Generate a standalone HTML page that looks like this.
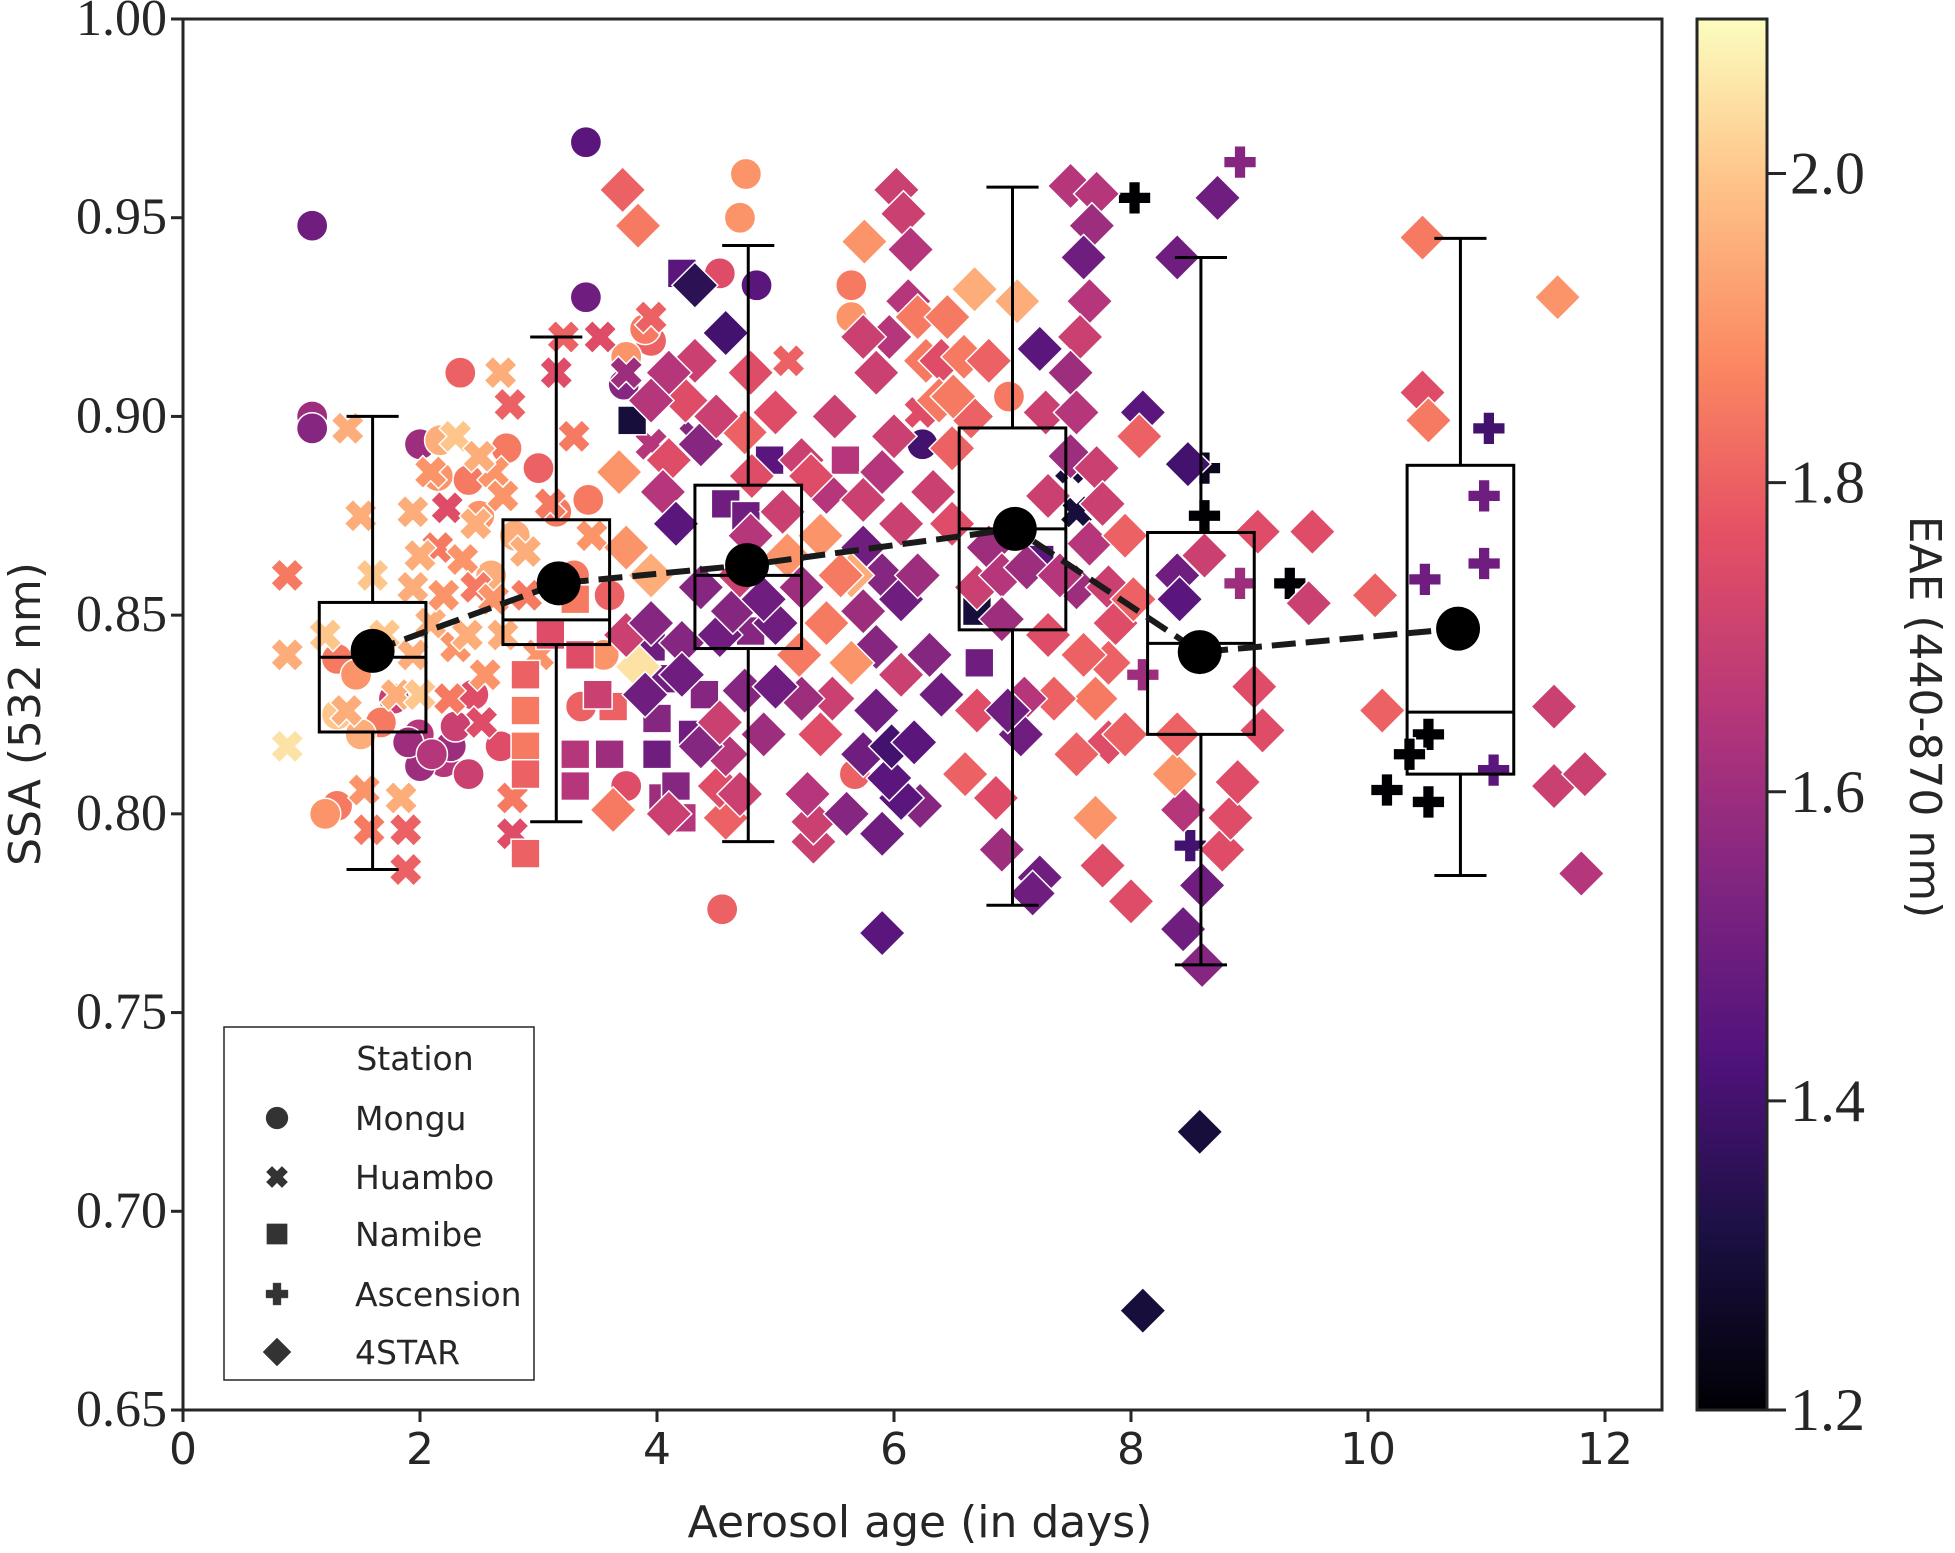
<!DOCTYPE html>
<html><head><meta charset="utf-8"><style>
html,body{margin:0;padding:0;background:#fff;}
svg{display:block;}
.serif{font-family:"Liberation Serif","DejaVu Serif",serif;}
.sans{font-family:"DejaVu Sans","Liberation Sans",sans-serif;}
</style></head><body>
<svg id="chart" width="1955" height="1553" viewBox="0 0 1955 1553" xmlns="http://www.w3.org/2000/svg">
<defs>
<linearGradient id="magma" x1="0" y1="1" x2="0" y2="0">
<stop offset="0" stop-color="#000004"/><stop offset="0.13" stop-color="#1c1044"/><stop offset="0.25" stop-color="#4f127b"/><stop offset="0.38" stop-color="#812581"/><stop offset="0.5" stop-color="#b5367a"/><stop offset="0.63" stop-color="#e55064"/><stop offset="0.75" stop-color="#fb8761"/><stop offset="0.88" stop-color="#fec287"/><stop offset="1" stop-color="#fcfdbf"/>
</linearGradient>
<clipPath id="plotclip"><rect x="183" y="19" width="1479" height="1391"/></clipPath>
</defs>
<rect x="0" y="0" width="1955" height="1553" fill="#fff"/>
<g id="scatter" clip-path="url(#plotclip)"></g>
<g id="boxes"></g>
<g id="means"></g>
<rect x="183" y="19" width="1479" height="1391" fill="none" stroke="#262626" stroke-width="3"/>
<g id="xticks"></g>
<g id="yticks"></g>
<text x="920" y="1537" text-anchor="middle" font-size="44" class="sans" fill="#262626">Aerosol age (in days)</text>
<text x="0" y="0" transform="translate(40,714) rotate(-90)" text-anchor="middle" font-size="44" class="sans" fill="#262626">SSA (532 nm)</text>
<rect x="1697" y="19" width="70" height="1391" fill="url(#magma)" stroke="#262626" stroke-width="3"/>
<g id="cbticks"></g>
<text x="0" y="0" transform="translate(1910,717) rotate(90)" text-anchor="middle" font-size="44" class="sans" fill="#262626">EAE (440-870 nm)</text>
<g>
<rect x="224" y="1027" width="310" height="353" fill="#fff" stroke="#262626" stroke-width="1.5"/>
<text x="415" y="1070" text-anchor="middle" font-size="33" class="sans" fill="#262626">Station</text>
<g id="legend-entries"></g>
</g>
</svg>
<script>
// ---------- data ----------
const xTicks = [0,2,4,6,8,10,12];
const yTicks = [0.65,0.70,0.75,0.80,0.85,0.90,0.95,1.00];
const cbTicks = [1.2,1.4,1.6,1.8,2.0];
const stations = ["Mongu","Huambo","Namibe","Ascension","4STAR"];
// [age, ssa, eae]
const mongu = [[1.09,0.948,1.5],[1.09,0.900,1.6],[1.09,0.897,1.55],[3.4,0.969,1.45],[3.4,0.930,1.5],[2.34,0.911,1.8],[2.0,0.893,1.6],[2.17,0.894,1.95],[1.3,0.839,1.85],[1.3,0.802,1.85],[4.55,0.776,1.8],[4.75,0.961,1.9],[4.7,0.950,1.9],[4.53,0.936,1.75],[4.84,0.933,1.45],[5.64,0.933,1.85],[5.64,0.925,1.9],[6.24,0.893,1.4],[6.97,0.905,1.85],[3.95,0.919,1.8],[5.67,0.810,1.8],[1.99,0.820,1.65],[2.2,0.813,1.65],[2.41,0.810,1.7],[2.68,0.817,1.75],[2.26,0.817,1.6],[1.78,0.829,1.7],[1.67,0.823,1.85],[1.3,0.825,2.0],[1.46,0.835,1.9],[2.15,0.885,1.9],[2.41,0.884,1.85],[2.73,0.892,1.85],[3.0,0.887,1.8],[3.15,0.876,1.85],[3.42,0.879,1.85],[3.36,0.827,1.8],[3.74,0.807,1.75],[3.72,0.908,1.55],[3.9,0.922,1.85],[3.74,0.915,1.9],[2.0,0.812,1.6],[2.3,0.822,1.7],[1.9,0.818,1.6],[2.1,0.815,1.65],[2.45,0.83,1.75],[2.6,0.86,1.95],[2.5,0.875,1.9],[1.2,0.8,1.9],[1.5,0.82,1.95],[3.3,0.86,1.85],[3.55,0.84,1.9],[2.8,0.87,1.95],[3.6,0.855,1.8]];
const huambo = [[0.88,0.860,1.85],[0.88,0.840,1.95],[0.88,0.817,2.05],[1.39,0.897,1.95],[1.38,0.826,1.95],[1.57,0.796,1.85],[1.88,0.796,1.8],[1.88,0.786,1.8],[1.53,0.806,1.9],[1.84,0.804,1.95],[1.94,0.857,1.95],[1.94,0.876,1.95],[2.15,0.867,1.85],[2.23,0.877,1.75],[2.36,0.864,1.9],[2.47,0.857,1.85],[2.62,0.854,1.9],[2.68,0.911,1.95],[2.76,0.903,1.8],[2.78,0.804,1.85],[2.78,0.795,1.75],[2.25,0.829,1.85],[2.52,0.823,1.75],[3.21,0.920,1.8],[3.15,0.911,1.75],[3.52,0.920,1.75],[3.95,0.925,1.8],[3.74,0.911,1.6],[3.95,0.893,1.65],[4.32,0.895,1.55],[5.11,0.914,1.8],[6.22,0.901,1.75],[7.49,0.887,1.3],[7.54,0.876,1.3],[2.09,0.886,1.9],[2.89,0.866,1.95],[3.10,0.878,1.85],[2.47,0.873,1.95],[2.09,0.848,1.95],[2.3,0.842,1.9],[1.94,0.840,1.95],[2.62,0.886,1.9],[1.7,0.845,2.0],[1.8,0.83,1.95],[2.0,0.865,1.95],[2.2,0.855,1.9],[2.4,0.845,1.95],[2.55,0.835,1.9],[2.7,0.845,1.95],[2.9,0.855,1.85],[3.0,0.84,1.9],[2.3,0.895,2.0],[2.5,0.89,1.95],[2.7,0.88,1.9],[3.3,0.895,1.85],[3.45,0.87,1.9],[1.6,0.86,2.0],[1.5,0.875,1.95],[1.2,0.845,2.0],[2.0,0.83,2.0]];
const namibe = [[3.79,0.899,1.3],[4.21,0.936,1.45],[2.89,0.817,1.85],[2.89,0.826,1.85],[2.89,0.790,1.8],[2.89,0.810,1.8],[3.31,0.815,1.65],[3.31,0.807,1.65],[3.63,0.827,1.8],[4.0,0.824,1.55],[4.0,0.815,1.5],[4.05,0.804,1.6],[4.16,0.807,1.55],[4.21,0.799,1.65],[4.79,0.846,1.55],[4.58,0.878,1.5],[4.95,0.889,1.45],[3.95,0.842,1.5],[4.05,0.834,1.5],[2.89,0.835,1.8],[3.31,0.854,1.85],[3.10,0.845,1.75],[5.59,0.889,1.65],[6.7,0.851,1.3],[6.72,0.838,1.5],[7.23,0.864,1.45],[3.5,0.83,1.7],[3.6,0.815,1.6],[4.3,0.82,1.5],[4.4,0.83,1.55],[3.35,0.84,1.75],[4.75,0.875,1.5]];
const ascension = [[8.03,0.955,1.2],[8.92,0.964,1.55],[8.62,0.887,1.25],[8.62,0.875,1.2],[8.92,0.858,1.6],[9.34,0.858,1.2],[8.5,0.792,1.4],[8.1,0.835,1.6],[11.02,0.897,1.4],[10.98,0.880,1.5],[10.98,0.863,1.5],[10.48,0.859,1.5],[10.51,0.820,1.2],[10.35,0.815,1.2],[10.16,0.806,1.2],[10.51,0.803,1.2],[11.06,0.811,1.45]];
const star4 = [[3.71,0.957,1.8],[3.84,0.948,1.85],[6.02,0.957,1.7],[6.08,0.951,1.7],[6.14,0.942,1.65],[6.12,0.929,1.65],[5.75,0.944,1.9],[6.68,0.932,1.95],[7.04,0.929,1.95],[7.49,0.958,1.65],[7.71,0.956,1.65],[7.67,0.948,1.6],[7.60,0.940,1.5],[7.65,0.929,1.65],[7.57,0.920,1.7],[7.49,0.911,1.6],[8.39,0.940,1.5],[8.73,0.955,1.5],[8.10,0.901,1.45],[8.48,0.888,1.4],[8.39,0.860,1.5],[8.41,0.854,1.45],[8.62,0.865,1.7],[9.07,0.871,1.75],[9.53,0.871,1.75],[9.50,0.853,1.7],[10.06,0.855,1.8],[10.12,0.826,1.8],[10.46,0.945,1.85],[10.46,0.906,1.75],[10.51,0.899,1.85],[11.6,0.930,1.9],[11.57,0.827,1.7],[11.57,0.807,1.7],[11.83,0.810,1.7],[11.8,0.785,1.65],[8.58,0.720,1.3],[8.10,0.675,1.3],[5.9,0.770,1.45],[8.0,0.778,1.75],[7.76,0.787,1.75],[8.44,0.771,1.5],[8.6,0.762,1.55],[8.6,0.782,1.5],[8.77,0.791,1.75],[8.84,0.799,1.75],[8.9,0.808,1.75],[8.44,0.801,1.65],[8.37,0.810,1.9],[8.39,0.820,1.8],[9.11,0.821,1.75],[9.04,0.832,1.75],[7.7,0.799,1.9],[7.81,0.818,1.75],[7.54,0.815,1.8],[7.7,0.829,1.85],[7.81,0.838,1.8],[7.35,0.829,1.8],[7.1,0.829,1.65],[7.23,0.784,1.5],[7.17,0.780,1.5],[6.91,0.791,1.6],[6.86,0.804,1.75],[6.70,0.826,1.75],[7.07,0.820,1.5],[6.96,0.826,1.5],[5.9,0.795,1.5],[6.22,0.802,1.55],[6.06,0.804,1.45],[5.96,0.809,1.45],[5.74,0.815,1.5],[5.98,0.817,1.4],[6.17,0.818,1.45],[5.85,0.826,1.5],[5.32,0.793,1.7],[5.32,0.798,1.7],[5.27,0.805,1.65],[5.38,0.820,1.75],[5.48,0.829,1.7],[5.22,0.829,1.6],[4.58,0.799,1.8],[4.53,0.807,1.75],[4.58,0.815,1.65],[4.37,0.817,1.55],[4.53,0.823,1.7],[4.74,0.831,1.55],[5.0,0.832,1.5],[4.37,0.857,1.55],[4.53,0.845,1.5],[4.21,0.843,1.55],[5.0,0.848,1.5],[5.22,0.857,1.6],[4.32,0.933,1.35],[4.58,0.921,1.4],[4.32,0.914,1.7],[4.24,0.904,1.75],[4.37,0.893,1.55],[4.1,0.889,1.75],[4.79,0.911,1.75],[4.74,0.896,1.8],[5.0,0.901,1.75],[5.22,0.889,1.7],[5.43,0.881,1.65],[5.74,0.879,1.7],[5.9,0.886,1.65],[6.06,0.873,1.7],[5.74,0.867,1.5],[5.9,0.860,1.55],[6.06,0.854,1.5],[5.74,0.851,1.6],[5.85,0.842,1.55],[6.06,0.835,1.7],[5.64,0.838,1.9],[5.43,0.848,1.85],[5.64,0.860,1.95],[5.38,0.870,1.9],[5.85,0.911,1.7],[5.96,0.920,1.65],[5.74,0.920,1.7],[6.27,0.914,1.85],[6.4,0.914,1.75],[6.59,0.915,1.85],[6.8,0.914,1.8],[6.38,0.904,1.85],[6.65,0.900,1.8],[6.49,0.892,1.8],[6.33,0.881,1.7],[6.49,0.873,1.75],[6.7,0.857,1.7],[6.8,0.867,1.6],[6.91,0.860,1.65],[6.91,0.849,1.6],[7.12,0.862,1.6],[7.23,0.917,1.45],[7.28,0.901,1.7],[7.54,0.901,1.65],[7.49,0.890,1.6],[7.71,0.887,1.7],[7.76,0.878,1.7],[7.65,0.868,1.65],[7.54,0.857,1.6],[7.81,0.857,1.7],[7.87,0.848,1.75],[8.02,0.854,1.8],[8.07,0.895,1.8],[3.95,0.860,1.95],[3.84,0.837,2.05],[3.74,0.867,1.9],[3.68,0.886,1.9],[3.74,0.845,1.7],[3.63,0.801,1.85],[4.1,0.911,1.65],[3.95,0.904,1.65],[4.05,0.881,1.65],[4.16,0.873,1.45],[4.21,0.835,1.5],[3.95,0.848,1.55],[4.79,0.870,1.65],[5.06,0.876,1.7],[4.64,0.851,1.55],[4.9,0.854,1.5],[4.5,0.9,1.7],[4.8,0.885,1.75],[5.1,0.865,1.9],[5.3,0.885,1.75],[5.5,0.9,1.7],[5.55,0.86,1.85],[5.2,0.84,1.85],[4.9,0.82,1.6],[4.7,0.86,1.7],[6.2,0.86,1.6],[6.3,0.84,1.55],[6.0,0.895,1.7],[6.5,0.905,1.85],[6.2,0.925,1.85],[6.45,0.925,1.85],[7.3,0.88,1.7],[7.4,0.86,1.65],[7.3,0.845,1.75],[7.6,0.84,1.8],[7.95,0.87,1.8],[7.95,0.82,1.8],[6.6,0.81,1.8],[6.4,0.83,1.5],[5.6,0.8,1.55],[3.9,0.83,1.5],[4.1,0.8,1.7],[4.7,0.805,1.7]];
// box stats per age bin: center, whisker low, q1, median, q3, whisker high
const boxCenters = [1.6,3.15,4.77,7.0,8.59,10.78];
const boxWhiskLo = [0.786,0.798,0.793,0.777,0.762,0.7845];
const boxQ1 = [0.8206,0.8426,0.8416,0.8463,0.820,0.810];
const boxMedian = [0.8394,0.8488,0.860,0.8717,0.8429,0.8256];
const boxQ3 = [0.8532,0.874,0.8827,0.8971,0.8708,0.8877];
const boxWhiskHi = [0.900,0.920,0.943,0.9577,0.940,0.9448];
const meanAge = [1.6,3.17,4.76,7.02,8.58,10.76];
const meanSSA = [0.841,0.858,0.8626,0.8717,0.8407,0.8466];

// ---------- scales ----------
const X0=183, X1=1662, Y0=1410, Y1=19;
const xs = v => X0 + v*118.5;
const ys = v => Y0 - (v-0.65)/0.35*(Y0-Y1);
const cs = v => Y0 - (v-1.2)/0.9*(Y0-Y1);
const NS="http://www.w3.org/2000/svg";
function mk(tag, attrs, parent){const e=document.createElementNS(NS,tag);for(const k in attrs)e.setAttribute(k,attrs[k]);parent.appendChild(e);return e;}
const stops=[[0,[0,0,4]],[0.13,[28,16,68]],[0.25,[79,18,123]],[0.38,[129,37,129]],[0.5,[181,54,122]],[0.63,[229,80,100]],[0.75,[251,135,97]],[0.88,[254,194,135]],[1,[252,253,191]]];
function magma(v){let t=Math.max(0,Math.min(1,(v-1.2)/0.9));for(let i=1;i<stops.length;i++){if(t<=stops[i][0]){const a=stops[i-1],b=stops[i];const f=(t-a[0])/(b[0]-a[0]);const c=a[1].map((x,j)=>Math.round(x+(b[1][j]-x)*f));return `rgb(${c[0]},${c[1]},${c[2]})`;}}return "rgb(252,253,191)";}
function marker(kind,cx,cy,s,fill,stroke,sw,parent){
  let e;
  if(kind==="circle") e=mk("circle",{cx,cy,r:s*0.78,fill,stroke,"stroke-width":sw},parent);
  else if(kind==="square") e=mk("rect",{x:cx-s*0.72,y:cy-s*0.72,width:s*1.44,height:s*1.44,fill,stroke,"stroke-width":sw},parent);
  else if(kind==="diamond") e=mk("polygon",{points:`${cx},${cy-s} ${cx+s},${cy} ${cx},${cy+s} ${cx-s},${cy}`,fill,stroke,"stroke-width":sw},parent);
  else if(kind==="plus"){const a=s*0.78,w=s*0.28;e=mk("polygon",{points:`${cx-w},${cy-a} ${cx+w},${cy-a} ${cx+w},${cy-w} ${cx+a},${cy-w} ${cx+a},${cy+w} ${cx+w},${cy+w} ${cx+w},${cy+a} ${cx-w},${cy+a} ${cx-w},${cy+w} ${cx-a},${cy+w} ${cx-a},${cy-w} ${cx-w},${cy-w}`,fill,stroke,"stroke-width":sw},parent);}
  else {const a=s*0.78,w=s*0.28;e=mk("polygon",{points:`${cx-w},${cy-a} ${cx+w},${cy-a} ${cx+w},${cy-w} ${cx+a},${cy-w} ${cx+a},${cy+w} ${cx+w},${cy+w} ${cx+w},${cy+a} ${cx-w},${cy+a} ${cx-w},${cy+w} ${cx-a},${cy+w} ${cx-a},${cy-w} ${cx-w},${cy-w}`,fill,stroke,"stroke-width":sw,transform:`rotate(45 ${cx} ${cy})`},parent);}
  return e;
}
const sc=document.getElementById("scatter");
const groups=[[mongu,"circle",20,"mongu-point"],[huambo,"cross",22,"huambo-point"],[namibe,"square",20,"namibe-point"],[ascension,"plus",21,"ascension-point"],[star4,"diamond",23,"4star-point"]];
groups.forEach(g=>{g[0].forEach(p=>{
  const e=marker(g[1],xs(p[0]),ys(p[1]),g[2],magma(p[2]),"#fff",1.5,sc);
  
  
});});
// boxes
const bx=document.getElementById("boxes");
const hw=0.45*118.5, cap=0.22*118.5;
boxCenters.forEach((c,i)=>{
  const cx=xs(c);
  const g=mk("g",{},bx);
  
  
  const st={stroke:"#000","stroke-width":3,fill:"none"};
  mk("rect",Object.assign({x:cx-hw,y:ys(boxQ3[i]),width:2*hw,height:ys(boxQ1[i])-ys(boxQ3[i])},st),g);
  mk("line",Object.assign({x1:cx-hw,x2:cx+hw,y1:ys(boxMedian[i]),y2:ys(boxMedian[i])},st),g);
  mk("line",Object.assign({x1:cx,x2:cx,y1:ys(boxQ3[i]),y2:ys(boxWhiskHi[i])},st),g);
  mk("line",Object.assign({x1:cx,x2:cx,y1:ys(boxQ1[i]),y2:ys(boxWhiskLo[i])},st),g);
  mk("line",Object.assign({x1:cx-cap,x2:cx+cap,y1:ys(boxWhiskHi[i]),y2:ys(boxWhiskHi[i])},st),g);
  mk("line",Object.assign({x1:cx-cap,x2:cx+cap,y1:ys(boxWhiskLo[i]),y2:ys(boxWhiskLo[i])},st),g);
});
// mean line
const mg=document.getElementById("means");
const pl=mk("polyline",{points:meanAge.map((a,i)=>xs(a)+","+ys(meanSSA[i])).join(" "),fill:"none",stroke:"#1a1a1a","stroke-width":6,"stroke-dasharray":"24,10"},mg);


meanAge.forEach((a,i)=>{
  const c=mk("circle",{cx:xs(a),cy:ys(meanSSA[i]),r:22,fill:"#000"},mg);
  
  
});
// axes
const xg=document.getElementById("xticks");
xTicks.forEach(t=>{
  mk("line",{x1:xs(t),x2:xs(t),y1:Y0,y2:Y0+12,stroke:"#262626","stroke-width":3},xg);
  const tx=mk("text",{x:xs(t),y:Y0+54,"text-anchor":"middle","font-size":44,fill:"#262626",class:"sans"},xg);
  tx.textContent=t;
  
  
});
const yg=document.getElementById("yticks");
yTicks.forEach(t=>{
  mk("line",{x1:X0-12,x2:X0,y1:ys(t),y2:ys(t),stroke:"#262626","stroke-width":3},yg);
  const tx=mk("text",{x:X0-16,y:ys(t)+16,"text-anchor":"end","font-size":52,fill:"#262626",class:"serif"},yg);
  tx.textContent=t.toFixed(2);
  
  
});
const cg=document.getElementById("cbticks");
cbTicks.forEach(t=>{
  mk("line",{x1:1767,x2:1786,y1:cs(t),y2:cs(t),stroke:"#262626","stroke-width":3},cg);
  const tx=mk("text",{x:1790,y:cs(t)+20,"font-size":60,fill:"#262626",class:"serif"},cg);
  tx.textContent=t.toFixed(1);
  
  
});
// legend
const lg=document.getElementById("legend-entries");
const lkinds=["circle","cross","square","plus","diamond"];
const lys=[1118,1177,1234,1294,1352];
stations.forEach((s,i)=>{
  const g=mk("g",{},lg);
  
  
  marker(lkinds[i],277,lys[i],14,"#333","#333",0.5,g);
  const tx=mk("text",{x:355,y:lys[i]+12,"font-size":33,fill:"#262626",class:"sans"},g);
  tx.textContent=s;
});
</script>
</body></html>
